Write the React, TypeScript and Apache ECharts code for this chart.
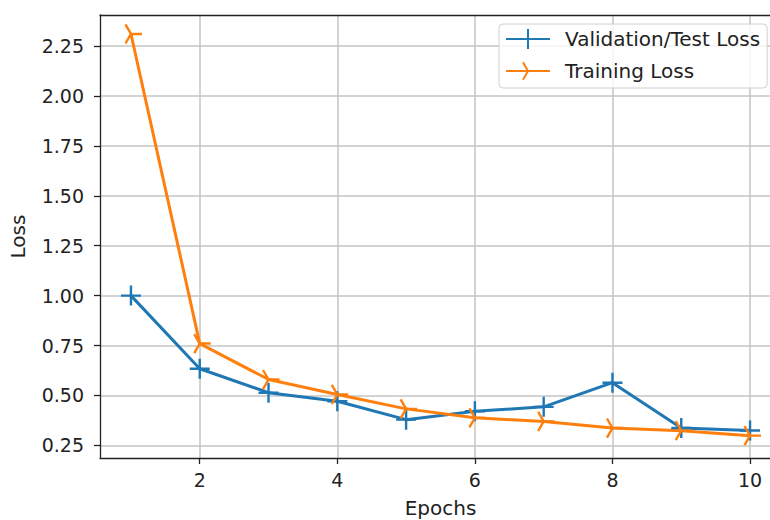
import React, { useEffect, useRef } from 'react';
import * as echarts from 'echarts';

const epochs = [1, 2, 3, 4, 5, 6, 7, 8, 9, 10];
const valLoss = [1.0, 0.634, 0.514, 0.471, 0.379, 0.421, 0.443, 0.564, 0.337, 0.325];
const trainLoss = [2.31, 0.76, 0.58, 0.505, 0.433, 0.388, 0.37, 0.337, 0.324, 0.299];
const yTicks = [0.25, 0.5, 0.75, 1.0, 1.25, 1.5, 1.75, 2.0, 2.25];
const xTicks = [2, 4, 6, 8, 10];
const seriesNames = ['Validation/Test Loss', 'Training Loss'];
const xName = 'Epochs';
const yName = 'Loss';

const BLUE = '#1f77b4';
const ORANGE = '#ff7f0e';
const FONT = 'DejaVu Sans';
const TXT = '#222';

const PLUS = 'path://M-1,0L1,0M0,-1L0,1';
const TRI_RIGHT = 'path://M-1,-1M1,1M0,0L1,0M0,0L-0.5,-0.866M0,0L-0.5,0.866';

export default function App() {
  const ref = useRef<HTMLDivElement>(null);
  useEffect(() => {
    if (!ref.current) return;
    const chart = echarts.init(ref.current, undefined, { renderer: 'svg' });
    const axisLine = { show: true, onZero: false, lineStyle: { color: TXT, width: 1.3 } };
    const axisTick = { show: true, length: 6, inside: false, lineStyle: { color: TXT, width: 1.3 } };
    const splitLine = { show: true, lineStyle: { color: '#c4c4c4', width: 1.5 } };
    chart.setOption({
      animation: false,
      textStyle: { fontFamily: FONT },
      grid: { left: 100, top: 15, bottom: 62, right: -11, containLabel: false, outerBoundsMode: 'none' },
      legend: {
        data: seriesNames,
        orient: 'vertical',
        left: 499,
        top: 24,
        itemWidth: 44,
        itemHeight: 25,
        itemGap: 10,
        padding: [4, 7, 6, 6],
        backgroundColor: 'rgba(255,255,255,0.8)',
        borderColor: '#d0d0d0',
        borderWidth: 1,
        borderRadius: 4,
        textStyle: { fontFamily: FONT, fontSize: 20, color: TXT, padding: [0, 0, 0, 10] },
      },
      xAxis: [
        {
          type: 'value',
          min: 0.55,
          max: 10.45,
          name: xName,
          nameLocation: 'middle',
          nameGap: 40,
          nameTextStyle: { fontFamily: FONT, fontSize: 20, color: TXT },
          axisLine,
          axisTick: { ...axisTick, customValues: xTicks },
          axisLabel: { customValues: xTicks, fontFamily: FONT, fontSize: 19, color: TXT, margin: 12 },
          splitLine,
        },
        {
          type: 'value',
          position: 'top',
          min: 0.55,
          max: 10.45,
          axisLine,
          axisTick: { show: false },
          axisLabel: { show: false },
          splitLine: { show: false },
        },
      ],
      yAxis: {
        type: 'value',
        min: 0.187,
        max: 2.405,
        name: yName,
        nameLocation: 'middle',
        nameGap: 72,
        nameTextStyle: { fontFamily: FONT, fontSize: 20, color: TXT },
        axisLine,
        axisTick: { ...axisTick, customValues: yTicks },
        axisLabel: {
          customValues: yTicks,
          fontFamily: FONT,
          fontSize: 19,
          color: TXT,
          margin: 16,
          formatter: (v: number) => v.toFixed(2),
        },
        splitLine,
      },
      series: [
        {
          type: 'line',
          name: seriesNames[0],
          data: epochs.map((e, i) => [e, valLoss[i]]),
          symbol: PLUS,
          symbolSize: 20,
          lineStyle: { color: BLUE, width: 3 },
          itemStyle: { color: BLUE, borderColor: BLUE, borderWidth: 2.4 },
          emphasis: { disabled: true },
        },
        {
          type: 'line',
          name: seriesNames[1],
          data: epochs.map((e, i) => [e, trainLoss[i]]),
          symbol: TRI_RIGHT,
          symbolSize: 22,
          lineStyle: { color: ORANGE, width: 3 },
          itemStyle: { color: ORANGE, borderColor: ORANGE, borderWidth: 2.4 },
          emphasis: { disabled: true },
        },
      ],
    });
    return () => chart.dispose();
  }, []);
  return (
    <div
      ref={ref}
      style={{ position: 'fixed', left: 0, top: 0, width: 770, height: 520, background: '#fff' }}
    />
  );
}
